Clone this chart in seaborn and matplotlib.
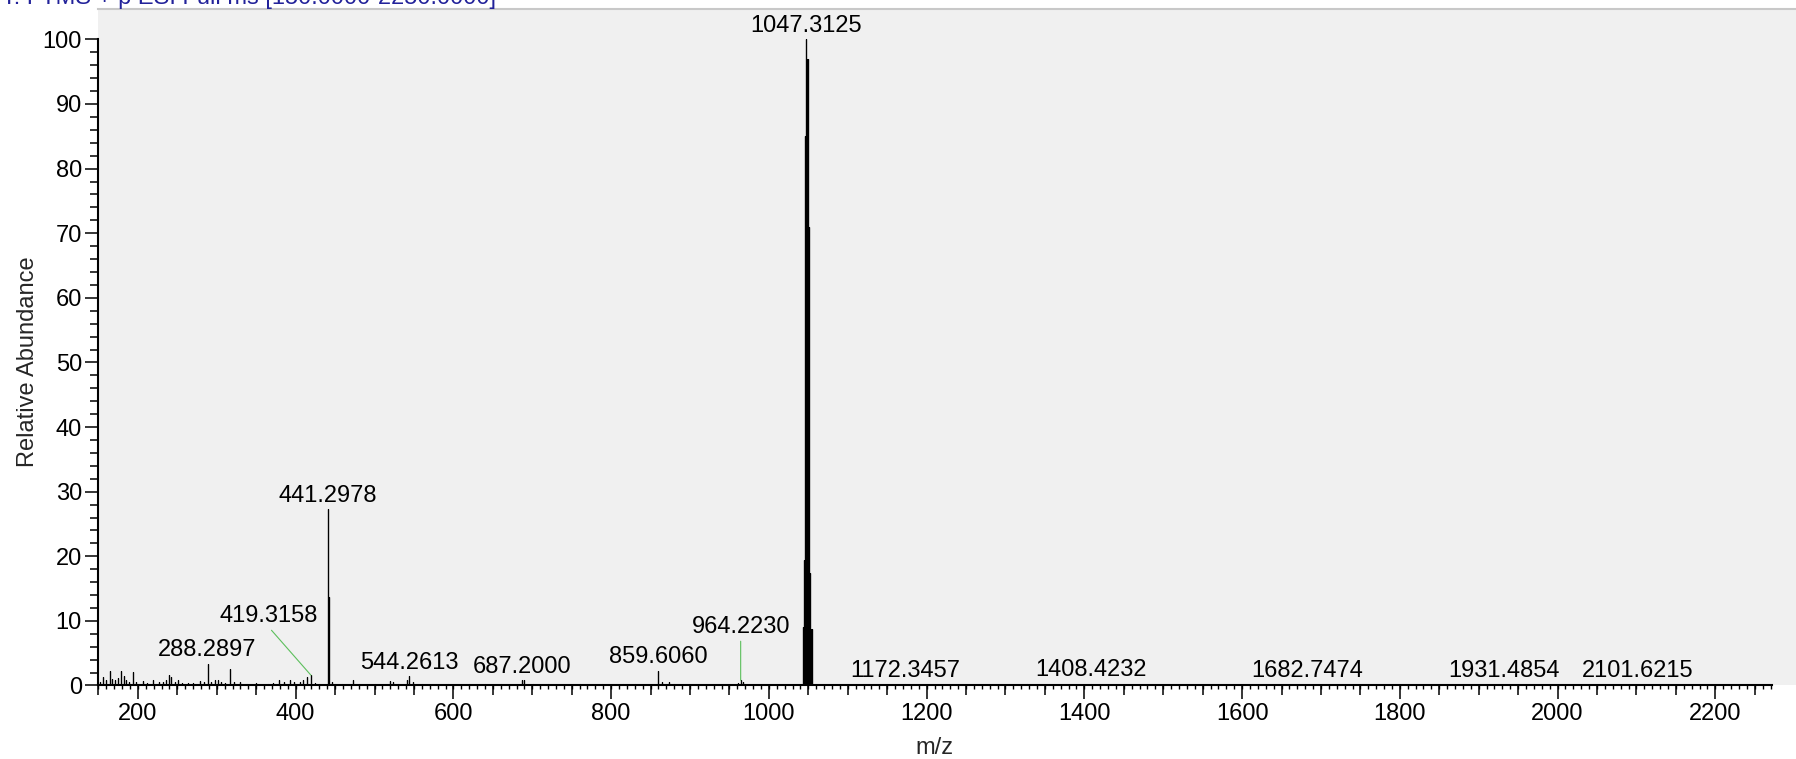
import numpy as np
import pandas as pd
import matplotlib
matplotlib.use("Agg")
import matplotlib.pyplot as plt
from matplotlib.ticker import FixedLocator
import seaborn as sns

# ---- spectrum data: centroided peaks (m/z, relative abundance in %) ----
peak_mz = [
    151.4, 155.6, 159.0, 164.0, 167.2, 170.4, 174.1, 178.9, 181.8, 185.2,
    189.1, 193.7, 197.3, 206.3, 212.1, 219.0, 227.2, 232.1, 236.2, 239.4,
    242.4, 247.1, 250.8, 256.2, 263.1, 270.2, 278.3, 283.2, 288.2897, 293.2,
    297.1, 301.6, 305.2, 310.3, 316.4, 322.2, 329.0, 338.3, 350.1, 365.2,
    371.3, 378.7, 385.2, 392.6, 398.3, 405.3, 409.2, 413.8, 419.3158, 424.3,
    430.2, 441.2978, 442.30, 445.6, 450.3, 458.3, 472.2, 480.3, 500.2, 519.6,
    523.8, 530.3, 541.3, 544.2613, 548.3, 560.3, 593.6, 620.3, 640.2, 660.3,
    687.2000, 689.8, 700.3, 720.3, 740.3, 760.3, 788.4, 815.3, 830.3, 859.6060,
    864.2, 873.0, 880.3, 960.3, 964.2230, 967.3,
    1043.3, 1044.3, 1045.3, 1046.3, 1047.3125, 1048.3, 1049.3, 1050.3, 1051.3,
    1052.3, 1053.3, 1054.3, 1055.3,
    1172.3457, 1327.4, 1408.4232, 1682.7474, 1931.4854, 2101.6215,
]
peak_abundance = [
    0.5, 1.3, 0.9, 2.2, 1.0, 0.8, 1.1, 2.3, 1.5, 0.9,
    0.6, 2.1, 0.5, 0.7, 0.4, 0.9, 0.5, 0.6, 0.8, 1.7,
    1.3, 0.6, 0.9, 0.4, 0.4, 0.4, 0.7, 0.6, 3.4, 0.6,
    0.9, 0.8, 0.5, 0.4, 2.6, 0.5, 0.5, 0.3, 0.4, 0.3,
    0.4, 0.9, 0.5, 0.8, 0.5, 0.5, 0.9, 1.3, 1.6, 0.4,
    0.3, 27.3, 13.7, 0.5, 0.3, 0.3, 0.9, 0.3, 0.2, 0.7,
    0.5, 0.3, 0.9, 1.4, 0.5, 0.2, 0.2, 0.2, 0.2, 0.2,
    0.8, 0.8, 0.2, 0.2, 0.15, 0.2, 0.2, 0.2, 0.2, 2.3,
    0.6, 0.5, 0.2, 0.4, 0.8, 0.5,
    9.0, 19.5, 39.0, 85.0, 100.0, 97.0, 97.0, 71.0, 39.0,
    17.4, 8.8, 8.8, 3.0,
    0.2, 0.3, 0.3, 0.15, 0.15, 0.15,
]

# annotated peaks (m/z labels)
label_mz = [288.2897, 419.3158, 441.2978, 544.2613, 687.2000, 859.6060,
            964.2230, 1047.3125, 1172.3457, 1408.4232, 1682.7474,
            1931.4854, 2101.6215]

# axis ticks
x_major_ticks = list(range(200, 2201, 200))
x_mid_ticks = list(range(150, 2272, 50))
x_fine_ticks = list(range(150, 2271, 10))
y_major_ticks = list(range(0, 101, 10))
y_minor_ticks = list(range(0, 101, 2))

title_text = "T: FTMS + p ESI Full ms [150.0000-2250.0000]"

# ---- style ----
sns.set_theme(style="ticks")
plt.rcParams["font.family"] = ["Liberation Sans", "DejaVu Sans"]
plt.rcParams["lines.solid_joinstyle"] = "round"

FS = 17
fig = plt.figure(figsize=(17.96, 7.59), dpi=100)
fig.patch.set_facecolor("white")
ax = fig.add_axes([0.05484, 0.09684, 0.94516, 0.8913])
ax.set_facecolor("#f0f0f0")

# stick trace: each peak rises from and returns to the baseline
peaks = pd.DataFrame({"mz": peak_mz, "abundance": peak_abundance}).sort_values("mz")
stick_x = np.repeat(peaks["mz"].to_numpy(), 3)
stick_y = np.column_stack([np.zeros(len(peaks)), peaks["abundance"].to_numpy(),
                           np.zeros(len(peaks))]).ravel()
trace = pd.DataFrame({"mz": stick_x, "abundance": stick_y})
sns.lineplot(data=trace, x="mz", y="abundance", sort=False, estimator=None,
             color="black", linewidth=0.85, ax=ax)

ax.set_xlim(150, 2302.3)
ax.set_ylim(0, 104.7)

# ---- annotations ----
lookup = dict(zip(peak_mz, peak_abundance))
leader_text_pos = {419.3158: (365.7, 9.83), 964.2230: (964.2230, 8.13)}
for mz in label_mz:
    h = lookup[mz]
    txt = f"{mz:.4f}"
    if mz in leader_text_pos:
        ax.annotate(txt, xy=(mz, h), xytext=leader_text_pos[mz],
                    textcoords="data", ha="center", va="baseline",
                    fontsize=FS, color="black",
                    arrowprops=dict(arrowstyle="-", color="#5cbf5c", lw=0.8,
                                    shrinkA=0, shrinkB=0, relpos=(0.5, 0.0)))
    else:
        ax.annotate(txt, xy=(mz, h), xytext=(0, 5.4), textcoords="offset points",
                    ha="center", va="baseline", fontsize=FS, color="black")

# ---- axes, spines and ticks ----
for side in ("left", "bottom"):
    ax.spines[side].set_linewidth(1.5)
    ax.spines[side].set_color("black")
ax.spines["left"].set_bounds(0, 100)
ax.spines["bottom"].set_bounds(150, 2272)
ax.spines["right"].set_visible(False)
ax.spines["top"].set_color("#c8c8c8")
ax.spines["top"].set_linewidth(1.5)

ax.xaxis.set_major_locator(FixedLocator(x_major_ticks))
ax.xaxis.set_minor_locator(FixedLocator(x_mid_ticks))
ax.yaxis.set_major_locator(FixedLocator(y_major_ticks))
ax.yaxis.set_minor_locator(FixedLocator(y_minor_ticks))
ax.set_xticklabels([str(v) for v in x_major_ticks])
ax.set_yticklabels([str(v) for v in y_major_ticks])

ax.tick_params(axis="x", which="major", length=10.4, width=1.1, pad=2.5,
               labelsize=FS, color="black", labelcolor="black")
ax.tick_params(axis="x", which="minor", length=7.2, width=1.1, color="black")
ax.tick_params(axis="y", which="major", length=9.7, width=1.1, pad=2.2,
               labelsize=FS, color="black", labelcolor="black")
ax.tick_params(axis="y", which="minor", length=5.8, width=1.1, color="black")

# fine 10-unit ticks along the m/z axis
fine = ax.secondary_xaxis("bottom")
fine.xaxis.set_major_locator(FixedLocator(x_fine_ticks))
fine.tick_params(axis="x", which="major", length=2.9, width=1.0, color="black",
                 labelbottom=False)
fine.spines["bottom"].set_visible(False)

ax.set_xlabel("m/z", fontsize=FS, va="center")
ax.xaxis.set_label_coords(0.4922, -0.0924)
ax.set_ylabel("Relative Abundance", fontsize=FS, va="center")
ax.yaxis.set_label_coords(-0.0418, 0.4786)

fig.text(2 / 1796, 1 - 4 / 759, title_text, ha="left", va="baseline",
         fontsize=FS, color="#22229a")

fig.savefig("out.png", dpi=100, facecolor="white")
